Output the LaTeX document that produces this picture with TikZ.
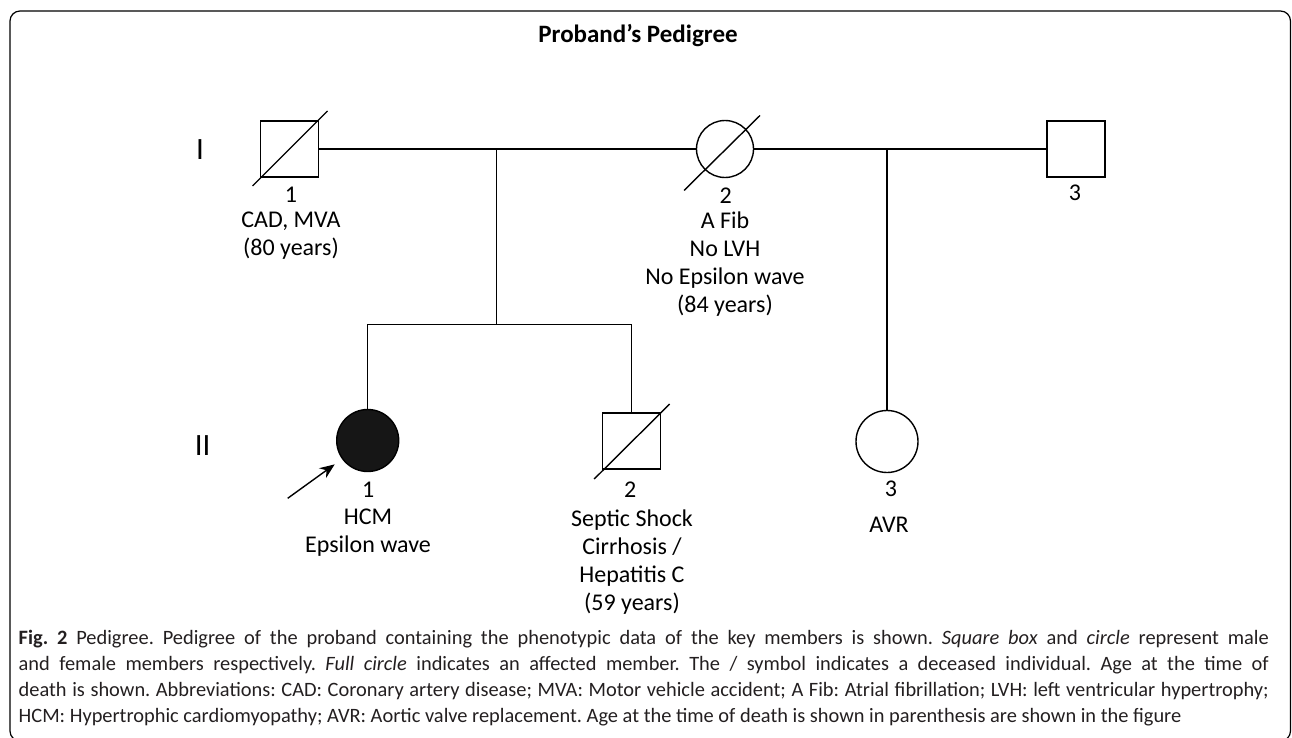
\documentclass[tikz,border=0pt]{standalone}
\usepackage{fontspec}
\setmainfont{Carlito}
\usepackage{tikz}
\usetikzlibrary{arrows.meta,positioning,calc}
\usepackage{xcolor}
\definecolor{capgray}{RGB}{35,31,32}
\definecolor{inkblack}{RGB}{22,22,22}

\tikzset{
  male/.style={draw, rectangle, minimum width=29pt, minimum height=28pt, inner sep=0pt},
  female/.style={draw, circle, minimum size=28.5pt, inner sep=0pt},
  child/.style={draw, circle, minimum size=31pt, inner sep=0pt},
  idnum/.style={inner sep=0pt, font=\fontsize{12}{14}\selectfont},
  info/.style={anchor=north, inner sep=0pt, align=center, font=\fontsize{12}{14}\selectfont},
  gen/.style={inner sep=0pt, font=\fontsize{15.5}{18}\selectfont}
}

\begin{document}
\begin{tikzpicture}[x=0.5pt, y=-0.5pt, line width=0.7pt]
  \useasboundingbox (0,0) rectangle (1292,738);
  \def\ya{149}
  \def\ys{324.3}

  \draw[line width=0.6pt, rounded corners=5pt] (10,11) rectangle (1290.5,741);
  \node[font=\bfseries\fontsize{12.5}{15}\selectfont] (title) at (638,35.5) {Proband’s Pedigree};

  \node[gen] (g1) at (200,150) {I};
  \node[gen] (g2) at (202.7,445.3) {II};

  \node[male]   (m1) at (289.5,\ya) {};
  \node[female] (f2) at (725,\ya) {};
  \node[male]   (m3) at (1076,\ya) {};
  \node[child, fill=inkblack] (c1) at (367.7,440.5) {};
  \node[male]   (m2) at (631.7,441) {};
  \node[child]  (c3) at (887,441.5) {};

  \draw (m1.east) -- (f2.west);
  \draw (f2.east) -- (m3.west);
  \coordinate (u1) at (496.7,\ya);
  \coordinate (s1) at (496.7,\ys);
  \coordinate (u2) at (887,\ya);
  \draw (u1) -- (s1);
  \draw (c1.north) |- (s1) -| (m2.north);
  \draw (u2) -- (c3.north);

  \draw ($(m1)+(-37,37)$) -- ($(m1)+(38,-38)$);
  \draw ($(f2)+(-41,41.5)$) -- ($(f2)+(35,-33.5)$);
  \draw ($(m2)+(-37.5,38)$) -- ($(m2)+(38,-37)$);

  \coordinate (prob) at (287.7,498.3);
  \draw[-{Stealth[length=7.5pt,width=6pt]}, shorten >=4.5pt] (prob) -- (c1);

  \node[idnum] (m1num) at (291,194.3) {1};
  \node[idnum] (f2num) at (725.7,196) {2};
  \node[idnum] (m3num) at (1075,192.7) {3};
  \node[idnum] (c1num) at (368.3,490) {1};
  \node[idnum] (m2num) at (630.3,489.3) {2};
  \node[idnum] (c3num) at (891,488.3) {3};

  \node[info] (m1txt) at (291,211) {CAD, MVA\\(80 years)};
  \node[info] (f2txt) at (725,211.3) {A Fib\\No LVH\\No Epsilon wave\\(84 years)};
  \node[info] (c1txt) at (368,508.7) {HCM\\Epsilon wave};
  \node[info] (m2txt) at (632,508.7) {Septic Shock\\Cirrhosis /\\Hepatitis C\\(59 years)};
  \node[info] (c3txt) at (889,516.3) {AVR};

  \node[anchor=north west, inner sep=0pt, text width=625pt, align=justify, text=capgray,
    font=\fontsize{10.2}{13}\selectfont] (caption) at (18,629)
    {\frenchspacing\tolerance=10000 \textbf{Fig.~2} Pedigree. Pedigree of the proband containing the phenotypic data of the key members is shown. \textit{Square box} and \textit{circle} represent male\linebreak
     and female members respectively. \textit{Full circle} indicates an affected member. The / symbol indicates a deceased individual. Age at the time of\linebreak
     death is shown. Abbreviations: CAD: Coronary artery disease; MVA: Motor vehicle accident; A Fib: Atrial fibrillation; LVH: left ventricular hypertrophy;\linebreak
     HCM: Hypertrophic cardiomyopathy; AVR: Aortic valve replacement. Age at the time of death is shown in parenthesis are shown in the figure};
\end{tikzpicture}
\end{document}
